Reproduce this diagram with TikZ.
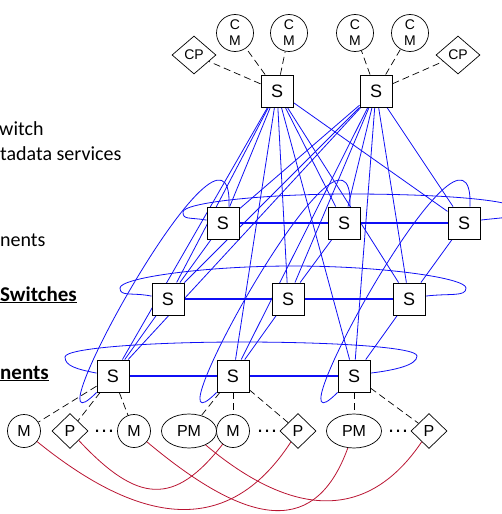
\documentclass[tikz,border=0pt]{standalone}
\usepackage{fontspec}
\setmainfont{Carlito}
\newfontfamily\nodefont{Liberation Sans}
\usetikzlibrary{shapes.geometric,backgrounds}

\definecolor{linkblue}{RGB}{15,15,245}
\definecolor{linkred}{RGB}{185,20,50}

\begin{document}
\begin{tikzpicture}[x=1pt, y=1pt,
    sw/.style={draw, line width=0.9pt, fill=white, minimum size=32pt, inner sep=0pt, font=\nodefont\fontsize{18}{18}\selectfont},
    mem/.style={circle, draw, line width=0.7pt, fill=white, minimum size=33pt, inner sep=0pt, font=\nodefont\fontsize{16}{16}\selectfont},
    pmem/.style={ellipse, draw, line width=0.7pt, fill=white, minimum width=55pt, minimum height=34pt, inner sep=0pt, font=\nodefont\fontsize{16}{16}\selectfont},
    proc/.style={diamond, draw, line width=0.7pt, fill=white, minimum width=36pt, minimum height=35pt, inner sep=0pt, font=\nodefont\fontsize{16}{16}\selectfont},
    cmem/.style={circle, draw, line width=0.7pt, fill=white, minimum size=37pt, inner sep=0pt, align=center, font=\nodefont\fontsize{14}{16}\selectfont},
    cproc/.style={diamond, draw, line width=0.7pt, fill=white, minimum width=44pt, minimum height=38pt, inner sep=0pt, font=\nodefont\fontsize{14}{14}\selectfont},
    gap/.style={inner sep=0pt, font=\nodefont\fontsize{22}{22}\selectfont},
    legend/.style={anchor=base west, inner sep=0pt, font=\fontsize{20}{24}\selectfont},
    hop/.style={linkblue, line width=0.8pt},
    ring/.style={linkblue, line width=1.2pt},
    wire/.style={linkred, line width=0.8pt},
    attach/.style={dash pattern=on 7pt off 4pt, line width=0.7pt}
  ]
  \useasboundingbox (0,0) rectangle (501,-514);

  % Legend (cut at the left edge)
  \node[legend] (lswitch) at (-1,-135) {witch};
  \node[legend] (lmeta) at (0,-160) {tadata services};
  \node[legend] (lcomp) at (0,-246) {nents};
  \node[legend, font=\bfseries\fontsize{21}{24}\selectfont] (lswitches) at (0,-301) {\underline{Switches}};
  \node[legend, font=\bfseries\fontsize{21}{24}\selectfont] (lnodes) at (0,-379) {\underline{nents}};

  % Top switches and their services
  \node[sw] (T1) at (277,-91) {S};
  \node[sw] (T2) at (376,-91) {S};
  \node[cmem] (CM1) at (235,-33) {C\\M};
  \node[cmem] (CM2) at (289,-33) {C\\M};
  \node[cmem] (CM3) at (355,-33) {C\\M};
  \node[cmem] (CM4) at (410,-33) {C\\M};
  \node[cproc] (CPL) at (194,-55) {CP};
  \node[cproc] (CPR) at (458,-55) {CP};

  % Switch layers
  \node[sw] (A1) at (223,-223) {S};
  \node[sw] (A2) at (344,-223) {S};
  \node[sw] (A3) at (464,-223) {S};
  \node[sw] (B1) at (168,-299) {S};
  \node[sw] (B2) at (288,-299) {S};
  \node[sw] (B3) at (409,-299) {S};
  \node[sw] (C1) at (113,-376) {S};
  \node[sw] (C2) at (233,-376) {S};
  \node[sw] (C3) at (354,-376) {S};

  % Components
  \node[mem] (M1) at (24,-431) {M};
  \node[proc] (P1) at (70,-431) {P};
  \node[gap] (D1) at (104,-431) {…};
  \node[mem] (M2) at (134,-431) {M};
  \node[pmem] (PM1) at (189,-431) {PM};
  \node[mem] (M3) at (233,-431) {M};
  \node[gap] (D2) at (267,-431) {…};
  \node[proc] (P2) at (298,-431) {P};
  \node[pmem] (PM2) at (354,-431) {PM};
  \node[gap] (D3) at (398,-431) {…};
  \node[proc] (P3) at (429,-431) {P};

  \begin{pgfonlayer}{background}
    % Links from the top switches
    \foreach \sname in {A1,A2,A3,B1,B2,B3,C1,C2,C3} {
      \draw[hop] (T1) -- (\sname);
      \draw[hop] (T2) -- (\sname);
    }
    % Rows
    \draw[ring] (A1) -- (A2);
    \draw[ring] (A2) -- (A3);
    \draw[ring] (B1) -- (B2);
    \draw[ring] (B2) -- (B3);
    \draw[ring] (C1) -- (C2);
    \draw[ring] (C2) -- (C3);
    % Columns
    \foreach \col in {1,2,3} {
      \draw[hop] (A\col) -- (B\col);
      \draw[hop] (B\col) -- (C\col);
    }

    % Wrap-around of the rows
    \draw[hop] (A3.10) .. controls +(25,3) and +(0,-8) .. (518,-210)
      .. controls +(0,10) and +(90,0) .. (350,-194)
      .. controls +(-90,0) and +(0,9) .. (183,-212)
      .. controls +(0,-8) and +(-18,3) .. (A1.170);
    \draw[hop] (B3.10) .. controls +(25,3) and +(0,-9) .. (466,-288)
      .. controls +(0,10) and +(90,0) .. (293,-266)
      .. controls +(-90,0) and +(0,10) .. (120,-288)
      .. controls +(0,-9) and +(-20,4) .. (B1.170);
    \draw[hop] (C3.10) .. controls +(25,3) and +(0,-9) .. (417,-356)
      .. controls +(0,9) and +(90,0) .. (241,-342)
      .. controls +(-90,0) and +(0,9) .. (65,-357)
      .. controls +(0,-9) and +(-20,4) .. (C1.170);

    % Wrap-around of the columns
    \foreach \col in {1,2,3}
      \draw[hop] (C\col.south west) .. controls +(-77,-78) and +(5,130) .. (A\col.70);
  \end{pgfonlayer}

  % Attachments
  \draw[attach] (T1) -- (CPL);
  \draw[attach] (T1) -- (CM1);
  \draw[attach] (T1) -- (CM2);
  \draw[attach] (T2) -- (CM3);
  \draw[attach] (T2) -- (CM4);
  \draw[attach] (T2) -- (CPR);
  \draw[attach] (C1) -- (M1);
  \draw[attach] (C1) -- (P1);
  \draw[attach] (C1) -- (M2);
  \draw[attach] (C2) -- (PM1);
  \draw[attach] (C2) -- (M3);
  \draw[attach] (C2) -- (P2);
  \draw[attach] (C3) -- (PM2);
  \draw[attach] (C3) -- (P3);

  % Cross links between components
  \draw[wire] (M1) .. controls +(-39:140) and +(-123:135) .. (P2);
  \draw[wire] (P1) .. controls +(-47:100) and +(-128:95) .. (M3);
  \draw[wire] (M2) .. controls +(-40:155) and +(-110:110) .. (PM2);
  \draw[wire] (PM1) .. controls +(-40:135) and +(-124:110) .. (P3);
\end{tikzpicture}
\end{document}
